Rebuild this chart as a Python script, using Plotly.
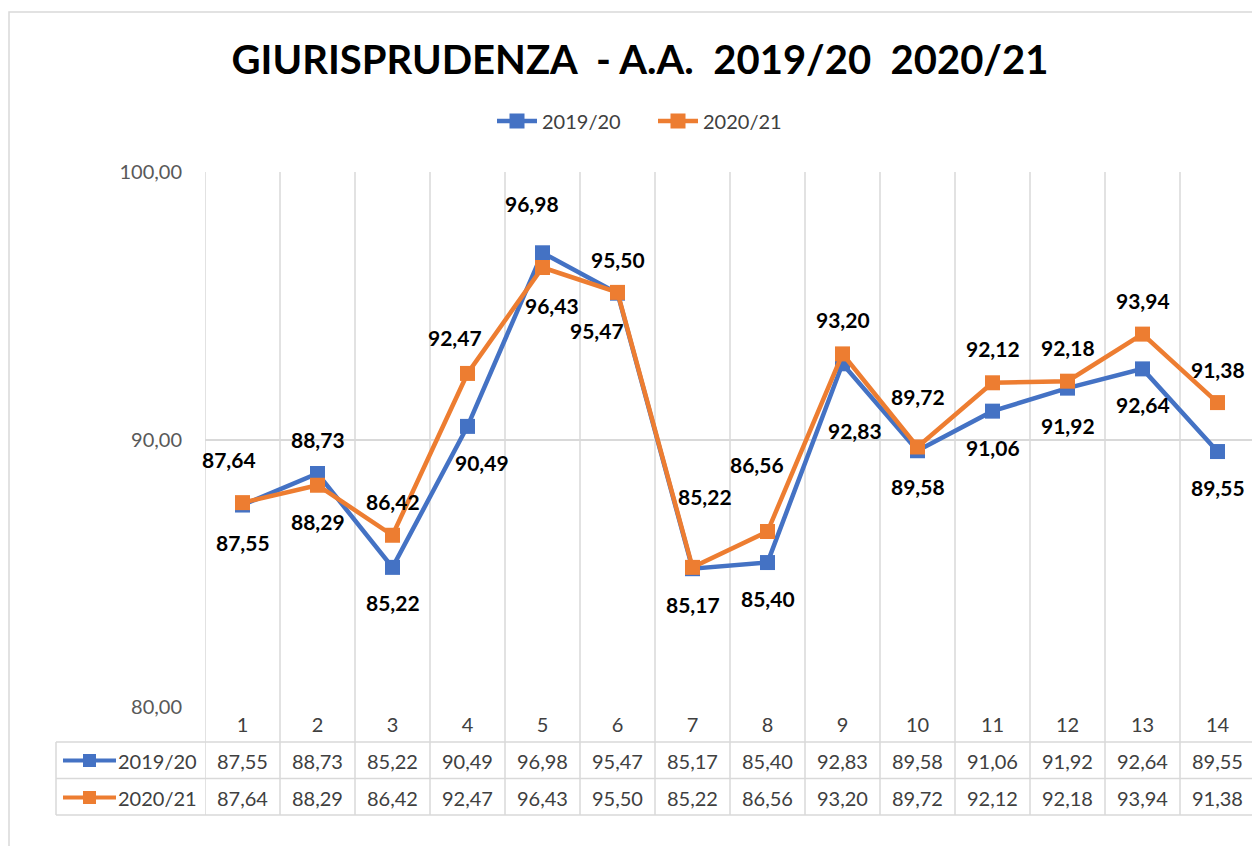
import plotly.graph_objects as go

# ---------------- data ----------------
categories = list(range(1, 15))
series_names = ["2019/20", "2020/21"]
values_1920 = [87.55, 88.73, 85.22, 90.49, 96.98, 95.47, 85.17, 85.40, 92.83, 89.58, 91.06, 91.92, 92.64, 89.55]
values_2021 = [87.64, 88.29, 86.42, 92.47, 96.43, 95.50, 85.22, 86.56, 93.20, 89.72, 92.12, 92.18, 93.94, 91.38]
y_ticks = [80, 90, 100]
title_text = "GIURISPRUDENZA\u00a0\u00a0-\u00a0A.A.\u00a0\u00a02019/20\u00a0\u00a02020/21"

# ---------------- styling / label placement (pixels) ----------------
BLUE = "#4472C4"
ORANGE = "#ED7D31"
GRID = "#D9D9D9"
TXT = "#404040"
FONT = "Lato"

# data-label offsets (dx, dy) in screen pixels, dy positive = down
offs_1920 = [(0, 37), (0, -34), (0, 35), (14, 36), (-11, -49), (-21, 37), (0, 36),
             (0, 36), (12, 67), (0, 36), (0, 36), (0, 37), (0, 36), (0, 36)]
offs_2021 = [(-14, -43), (0, 36), (0, -34), (-13, -36), (9, 38), (0, -33), (12, -71),
             (-11, -67), (0, -34), (0, -50), (0, -34), (0, -34), (0, -34), (0, -33)]

# the page body adds an 8px offset; figure coordinates are reference pixels minus OFF
OFF = 8
W, H = 1260 - OFF, 846 - OFF
ML, MR, MT, MB = 205 - OFF, 5, 172 - OFF, 846 - 707
PW = W - ML - MR
PH = H - MT - MB


def py(pix):
    """reference pixel y (from top of window) -> paper y"""
    return (H - MB - (pix - OFF)) / PH


def px(pix):
    """reference pixel x (from left of window) -> paper x"""
    return ((pix - OFF) - ML) / PW


def fmt(v):
    return f"{v:.2f}".replace(".", ",")


fig = go.Figure()
for name, vals, col in [(series_names[0], values_1920, BLUE), (series_names[1], values_2021, ORANGE)]:
    fig.add_trace(go.Scatter(
        x=categories, y=vals, name=name, mode="lines+markers",
        line=dict(color=col, width=4.5),
        marker=dict(symbol="square", size=15, color=col),
        cliponaxis=False,
    ))

annotations = []
# data labels
for vals, offs in [(values_1920, offs_1920), (values_2021, offs_2021)]:
    for c, v, (dx, dy) in zip(categories, vals, offs):
        annotations.append(dict(
            x=c, y=v, xref="x", yref="y", text=fmt(v), showarrow=False,
            xshift=dx, yshift=-dy,
            font=dict(family=FONT, size=21, color="#000000", weight="bold"),
        ))

# data table rows
row_pix = [760.5, 797.5]
for name, vals, col, rp in [(series_names[0], values_1920, BLUE, row_pix[0]),
                            (series_names[1], values_2021, ORANGE, row_pix[1])]:
    for c, v in zip(categories, vals):
        annotations.append(dict(
            x=c, y=py(rp), xref="x", yref="paper", text=fmt(v), showarrow=False,
            xanchor="center", yanchor="middle",
            font=dict(family=FONT, size=20, color=TXT),
        ))
    annotations.append(dict(
        x=px(199), y=py(rp), xref="paper", yref="paper", text=name, showarrow=False,
        xanchor="right", yanchor="middle",
        font=dict(family=FONT, size=20, color=TXT),
    ))

shapes = []
# outer chart border
shapes.append(dict(type="rect", xref="paper", yref="paper",
                   x0=px(9), x1=px(1280), y0=py(870), y1=py(12),
                   line=dict(color=GRID, width=1.5), fillcolor="rgba(0,0,0,0)", layer="below"))
# vertical category boundaries (through the table)
for k in range(len(categories) + 1):
    shapes.append(dict(type="line", xref="x", yref="paper",
                       x0=k + 0.5, x1=k + 0.5, y0=py(815), y1=1,
                       line=dict(color=GRID, width=1.5), layer="below"))
# table horizontal lines
for yp in [742, 778.5, 815]:
    shapes.append(dict(type="line", xref="paper", yref="paper",
                       x0=px(56), x1=1, y0=py(yp), y1=py(yp),
                       line=dict(color=GRID, width=1.5), layer="below"))
shapes.append(dict(type="line", xref="paper", yref="paper",
                   x0=px(56), x1=px(56), y0=py(742), y1=py(815),
                   line=dict(color=GRID, width=1.5), layer="below"))
# legend keys in table
for col, rp in [(BLUE, row_pix[0]), (ORANGE, row_pix[1])]:
    shapes.append(dict(type="line", xref="paper", yref="paper",
                       x0=px(63), x1=px(116), y0=py(rp), y1=py(rp),
                       line=dict(color=col, width=4)))
    shapes.append(dict(type="rect", xref="paper", yref="paper",
                       x0=px(83), x1=px(96), y0=py(rp + 6.5), y1=py(rp - 6.5),
                       line=dict(color=col, width=0), fillcolor=col))

fig.update_layout(
    width=W, height=H,
    margin=dict(l=ML, r=MR, t=MT, b=MB, pad=0),
    paper_bgcolor="white", plot_bgcolor="white",
    separators=",.",
    title=dict(text=title_text, x=(640 - OFF) / W, xanchor="center", y=1 - (60 - OFF) / H,
               yanchor="middle",
               font=dict(family=FONT, size=40, color="#000000", weight="bold")),
    legend=dict(orientation="h", x=px(492), xanchor="left", y=py(121), yanchor="middle",
                font=dict(family=FONT, size=20, color=TXT), itemwidth=40,
                entrywidth=106, entrywidthmode="pixels",
                bgcolor="rgba(0,0,0,0)"),
    xaxis=dict(range=[0.5, 14.5], tickmode="array", tickvals=categories,
               ticktext=[str(c) for c in categories], showgrid=False, zeroline=False,
               showline=False, ticks="", ticklabelstandoff=4,
               tickfont=dict(family=FONT, size=20, color=TXT), fixedrange=True),
    yaxis=dict(range=[80, 100], tickmode="array", tickvals=y_ticks, tickformat=".2f",
               showgrid=True, gridcolor=GRID, gridwidth=1.5, zeroline=False,
               showline=False, ticks="", ticklabelstandoff=22,
               tickfont=dict(family=FONT, size=20, color="#595959"), fixedrange=True),
    annotations=annotations,
    shapes=shapes,
    showlegend=True,
)

fig.write_html("out.html")
